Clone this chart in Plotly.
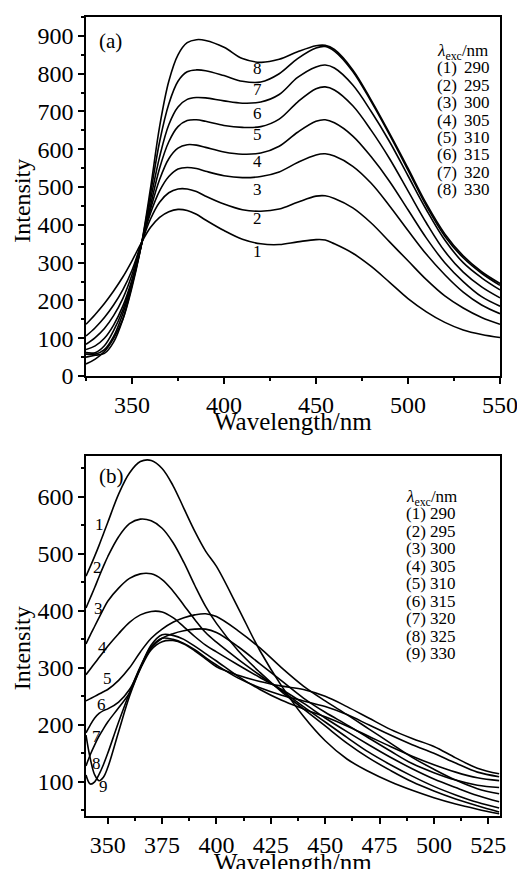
import plotly.graph_objs as go

# Panel (a) emission spectra, excitation 290-330 nm
wl_a = [325, 330, 335, 340, 345, 350, 355, 360, 365, 370, 375, 380, 385, 390, 400, 410,
        420, 430, 440, 450, 455, 460, 470, 480, 490, 500, 510, 520, 530, 540, 550]
exc_a = ["290", "295", "300", "305", "310", "315", "320", "330"]
a1 = [137, 163, 192, 225, 262, 305, 352, 393, 420, 435, 441, 438, 428, 413, 385, 362,
      350, 348, 355, 361, 360, 350, 325, 290, 248, 205, 170, 142, 122, 110, 102]
a2 = [106, 128, 155, 188, 228, 280, 350, 415, 460, 485, 495, 495, 488, 476, 455, 440,
      436, 442, 460, 476, 477, 470, 445, 405, 355, 305, 255, 212, 180, 155, 137]
a3 = [84, 102, 126, 160, 205, 268, 350, 430, 490, 528, 548, 552, 549, 542, 530, 525,
      528, 540, 565, 585, 588, 582, 555, 510, 450, 385, 322, 268, 222, 188, 165]
a4 = [70, 80, 100, 135, 185, 255, 345, 440, 520, 575, 603, 612, 611, 605, 593, 587,
      590, 608, 645, 674, 678, 670, 635, 580, 515, 440, 365, 300, 250, 210, 185]
a5 = [62, 62, 80, 120, 175, 250, 345, 450, 550, 620, 660, 676, 678, 674, 663, 658,
      660, 680, 725, 760, 765, 757, 715, 650, 575, 490, 405, 330, 275, 236, 207]
a6 = [58, 58, 70, 105, 165, 245, 345, 465, 580, 665, 712, 732, 737, 736, 728, 722,
      725, 745, 790, 818, 823, 815, 770, 700, 620, 530, 440, 360, 300, 260, 228]
a7 = [50, 55, 60, 90, 150, 240, 345, 480, 620, 720, 780, 805, 810, 808, 795, 780,
      778, 800, 840, 868, 872, 860, 806, 726, 638, 545, 450, 370, 313, 272, 240]
a8 = [32, 45, 65, 100, 150, 235, 345, 495, 660, 780, 850, 882, 890, 888, 870, 840,
      830, 838, 858, 874, 875, 864, 810, 730, 642, 550, 456, 376, 318, 276, 245]
series_a = [a1, a2, a3, a4, a5, a6, a7, a8]

# Panel (b) emission spectra, excitation 290-330 nm
wl_b = [340, 342, 344, 346, 348, 350, 355, 360, 365, 370, 375, 380, 385, 390, 395,
        400, 410, 420, 430, 440, 450, 460, 470, 480, 490, 500, 510, 520, 530]
exc_b = ["290", "295", "300", "305", "310", "315", "320", "325", "330"]
b1 = [461, 478, 496, 515, 535, 555, 605, 642, 662, 664, 650, 620, 580, 540, 505,
      478, 405, 330, 268, 215, 172, 140, 118, 100, 85, 72, 61, 52, 44]
b2 = [405, 423, 441, 460, 478, 495, 530, 553, 561, 558, 545, 520, 485, 445, 408,
      378, 330, 292, 258, 228, 198, 168, 142, 120, 100, 84, 70, 58, 47]
b3 = [342, 358, 373, 388, 403, 417, 440, 457, 465, 465, 455, 435, 410, 385, 362,
      345, 315, 287, 260, 232, 205, 178, 152, 130, 110, 92, 77, 64, 54]
b4 = [288, 298, 308, 318, 328, 338, 360, 380, 393, 399, 398, 388, 372, 355, 340,
      328, 305, 283, 262, 238, 212, 188, 165, 143, 123, 105, 90, 76, 65]
b5 = [242, 246, 250, 254, 258, 262, 278, 300, 328, 352, 368, 380, 388, 393, 395,
      390, 365, 335, 300, 268, 242, 218, 193, 168, 143, 122, 103, 88, 79]
b6 = [186, 200, 212, 220, 225, 228, 240, 262, 300, 335, 352, 360, 365, 368, 368,
      362, 337, 307, 277, 247, 222, 200, 177, 154, 132, 116, 103, 94, 90]
b7 = [128, 148, 165, 180, 193, 205, 230, 256, 300, 340, 358, 357, 350, 338, 325,
      312, 285, 262, 243, 228, 214, 198, 180, 162, 145, 130, 117, 107, 102]
b8 = [112, 96, 100, 113, 130, 150, 205, 256, 302, 337, 352, 350, 343, 332, 318,
      305, 282, 265, 252, 242, 232, 218, 200, 182, 165, 150, 133, 117, 109]
b9 = [182, 140, 112, 102, 108, 125, 188, 250, 298, 332, 346, 348, 342, 330, 316,
      302, 287, 276, 268, 262, 250, 232, 212, 192, 176, 162, 142, 124, 114]
series_b = [b1, b2, b3, b4, b5, b6, b7, b8, b9]

# curve number labels (data coordinates)
lab_a_x = [418] * 8
lab_a_y = [330, 417, 493, 567, 638, 694, 757, 813]
lab_b_x = [346.4, 345.5, 345.9, 347.7, 350, 347.3, 345, 345, 348]
lab_b_y = [551, 477, 405, 335, 282, 235, 179, 133, 91]

FONT = "Liberation Serif, Times New Roman, serif"

data = []
for s in series_a:
    data.append(go.Scatter(x=wl_a, y=s, mode="lines", xaxis="x", yaxis="y",
                           line={"color": "black", "width": 1.6, "shape": "spline", "smoothing": 1}))
for s in series_b:
    data.append(go.Scatter(x=wl_b, y=s, mode="lines", xaxis="x2", yaxis="y2",
                           line={"color": "black", "width": 1.6, "shape": "spline", "smoothing": 1}))


def axis_style(**kw):
    d = dict(showline=True, linecolor="black", linewidth=1.5, mirror=True,
             ticks="outside", ticklen=6, tickwidth=1.5, tickcolor="black",
             showgrid=False, zeroline=False,
             tickfont={"family": FONT, "size": 24, "color": "black"})
    d.update(kw)
    return d


# page body has an 8px margin, so the figure is 8px smaller than the window
layout = go.Layout(
    width=517, height=861,
    margin={"l": 78, "r": 19, "t": 7, "b": 53},
    paper_bgcolor="white", plot_bgcolor="white",
    showlegend=False,
    font={"family": FONT, "color": "black"},
    xaxis=axis_style(domain=[0, 1], range=[325, 550], tick0=350, dtick=50, anchor="y",
                     minor={"ticks": "outside", "ticklen": 3, "dtick": 25, "tickcolor": "black"}),
    yaxis=axis_style(domain=[0.5506, 1], range=[0, 950], tick0=0, dtick=100, anchor="x",
                     minor={"ticks": "outside", "ticklen": 3, "dtick": 50, "tickcolor": "black"}),
    xaxis2=axis_style(domain=[0, 1], range=[340, 530.4], tick0=350, dtick=25, anchor="y2",
                      minor={"ticks": "outside", "ticklen": 3, "dtick": 12.5, "tickcolor": "black"}),
    yaxis2=axis_style(domain=[0, 0.4507], range=[40, 672], tick0=0, dtick=100, anchor="x2",
                      minor={"ticks": "outside", "ticklen": 3, "dtick": 50, "tickcolor": "black"}),
)

fig = go.Figure(data=data, layout=layout)

ann_font = {"family": FONT, "size": 17, "color": "black"}
title_font = {"family": FONT, "size": 25, "color": "black"}


def note(text, **kw):
    d = dict(text=text, showarrow=False, xanchor="left", yanchor="middle", font=ann_font)
    d.update(kw)
    fig.add_annotation(**d)


# axis titles
note("Wavelength/nm", xref="paper", yref="paper", x=0.5, y=0.5506, yshift=-45,
     xanchor="center", font=title_font)
note("Wavelength/nm", xref="paper", yref="paper", x=0.5, y=0, yshift=-46,
     xanchor="center", font=title_font)
note("Intensity", xref="paper", yref="paper", x=0, xshift=-64, y=0.77,
     xanchor="center", textangle=-90, font={"family": FONT, "size": 24, "color": "black"})
note("Intensity", xref="paper", yref="paper", x=0, xshift=-64, y=0.21,
     xanchor="center", textangle=-90, font={"family": FONT, "size": 24, "color": "black"})

# panel letters
note("(a)", xref="x domain", yref="y domain", x=0.026, y=0.933,
     font={"family": FONT, "size": 21, "color": "black"})
note("(b)", xref="x2 domain", yref="y2 domain", x=0.026, y=0.945,
     font={"family": FONT, "size": 21, "color": "black"})

# legends inside panels
note("<i>λ</i><sub>exc</sub>/nm", xref="x domain", yref="y domain", x=0.842, y=0.903)
for i, v in enumerate(exc_a):
    yy = 0.858 - 0.0483 * i
    note("(%d)" % (i + 1), xref="x domain", yref="y domain", x=0.842, y=yy)
    note(v, xref="x domain", yref="y domain", x=0.909, y=yy)

note("<i>λ</i><sub>exc</sub>/nm", xref="x2 domain", yref="y2 domain", x=0.769, y=0.884)
for i, v in enumerate(exc_b):
    yy = 0.839 - 0.0485 * i
    note("(%d)" % (i + 1), xref="x2 domain", yref="y2 domain", x=0.767, y=yy)
    note(v, xref="x2 domain", yref="y2 domain", x=0.826, y=yy)

# curve numbers
for i in range(8):
    note(str(i + 1), x=lab_a_x[i], y=lab_a_y[i], xref="x", yref="y", xanchor="center")
for i in range(9):
    note(str(i + 1), x=lab_b_x[i], y=lab_b_y[i], xref="x2", yref="y2", xanchor="center")

fig.write_html("out.html")
